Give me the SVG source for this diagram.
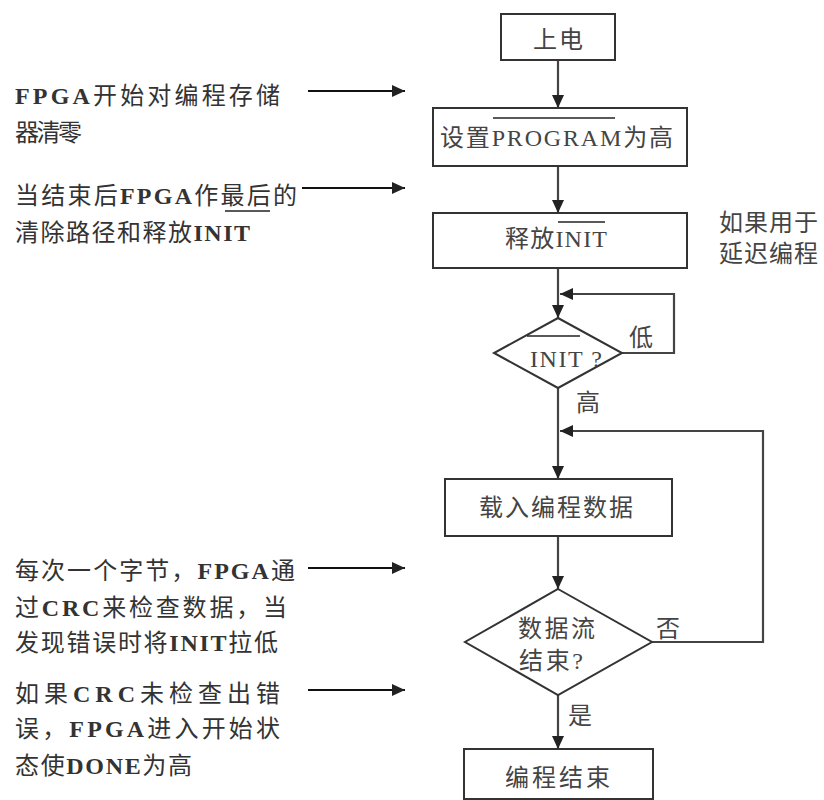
<svg xmlns="http://www.w3.org/2000/svg" width="824" height="800" viewBox="0 0 824 800">
<defs>
<marker id="ah" markerUnits="userSpaceOnUse" markerWidth="14" markerHeight="12" refX="13" refY="6" orient="auto">
<path d="M0,0 L13,6 L0,12 z" fill="#222"/>
</marker>
<style>
.box{fill:#fff;stroke:#333;stroke-width:2}
.con{fill:none;stroke:#444;stroke-width:2.2;marker-end:url(#ah)}
.ann{fill:none;stroke:#111;stroke-width:2;marker-end:url(#ah)}
.ol{stroke:#222;stroke-width:1.6}
.t{font-family:"Liberation Serif","Noto Sans CJK SC",serif;font-size:24px;fill:#444}
.l{font-family:"Liberation Serif","Noto Sans CJK SC",serif;font-size:24px;fill:#333}
.b{font-weight:bold}
</style>
</defs>
<rect width="824" height="800" fill="#fff"/>

<g id="connectors">
<line class="con" x1="558" y1="60" x2="558" y2="108"/>
<line class="con" x1="558" y1="166" x2="558" y2="213"/>
<line class="con" x1="558" y1="268" x2="558" y2="318"/>
<polyline class="con" points="622,353 674,353 674,294 560,294"/>
<line class="con" x1="558" y1="388" x2="558" y2="479"/>
<line class="con" x1="558" y1="536" x2="558" y2="589"/>
<polyline class="con" points="652,642 763,642 763,431 560,431"/>
<line class="con" x1="558" y1="695" x2="558" y2="749"/>
<text class="t" x="629" y="346">低</text>
<text class="t" x="576" y="411">高</text>
<text class="t" x="656" y="637">否</text>
<text class="t" x="568" y="724">是</text>
</g>

<g id="n-power">
<rect class="box" x="501" y="14" width="114" height="46"/>
<text class="t" x="533" y="48" textLength="50" lengthAdjust="spacing">上电</text>
</g>

<g id="n-program">
<rect class="box" x="433" y="108" width="254" height="58"/>
<text class="t" x="440" y="146" textLength="233" lengthAdjust="spacing">设置PROGRAM为高</text>
<line class="ol" x1="493" y1="118" x2="615" y2="118"/>
</g>

<g id="n-release">
<rect class="box" x="433" y="213" width="254" height="55"/>
<text class="t" x="505" y="247" textLength="102" lengthAdjust="spacing">释放INIT</text>
<line class="ol" x1="558" y1="222" x2="605" y2="222"/>
</g>

<g id="n-init">
<polygon class="box" points="558,318 622,353 558,388 494,353"/>
<text class="t" x="530" y="367" textLength="72" lengthAdjust="spacing">INIT ?</text>
<line class="ol" x1="527" y1="336" x2="580" y2="336"/>
</g>

<g id="n-load">
<rect class="box" x="445" y="479" width="227" height="57"/>
<text class="t" x="479" y="516" textLength="154" lengthAdjust="spacing">载入编程数据</text>
</g>

<g id="n-end-q">
<polygon class="box" points="558,589 652,642 558,695 465,642"/>
<text class="t" x="518" y="637" textLength="77" lengthAdjust="spacing">数据流</text>
<text class="t" x="519" y="669" textLength="64" lengthAdjust="spacing">结束?</text>
</g>

<g id="n-done">
<rect class="box" x="464" y="749" width="189" height="50"/>
<text class="t" x="505" y="786" textLength="105" lengthAdjust="spacing">编程结束</text>
</g>

<g id="n-note-right">
<text class="t" x="719" y="231" textLength="99" lengthAdjust="spacing">如果用于</text>
<text class="t" x="719" y="262" textLength="99" lengthAdjust="spacing">延迟编程</text>
</g>

<g id="n-note1">
<text class="l" x="15" y="104" textLength="265" lengthAdjust="spacing"><tspan class="b">FPGA</tspan>开始对编程存储</text>
<text class="l" x="15" y="141" textLength="67" lengthAdjust="spacing">器清零</text>
<line class="ann" x1="308" y1="91" x2="405" y2="91"/>
</g>

<g id="n-note2">
<text class="l" x="15" y="204" textLength="282" lengthAdjust="spacing">当结束后<tspan class="b">FPGA</tspan>作最后的</text>
<text class="l" x="15" y="241" textLength="235" lengthAdjust="spacing">清除路径和释放<tspan class="b">INIT</tspan></text>
<line class="ol" x1="225" y1="211" x2="270" y2="211"/>
<line class="ann" x1="302" y1="188" x2="405" y2="188"/>
</g>

<g id="n-note3">
<text class="l" x="15" y="579" textLength="280" lengthAdjust="spacing">每次一个字节，<tspan class="b">FPGA</tspan>通</text>
<text class="l" x="15" y="616" textLength="272" lengthAdjust="spacing">过<tspan class="b">CRC</tspan>来检查数据，当</text>
<text class="l" x="15" y="651" textLength="263" lengthAdjust="spacing">发现错误时将<tspan class="b">INIT</tspan>拉低</text>
<line class="ann" x1="308" y1="568" x2="405" y2="568"/>
</g>

<g id="n-note4">
<text class="l" x="15" y="702" textLength="265" lengthAdjust="spacing">如果<tspan class="b">CRC</tspan>未检查出错</text>
<text class="l" x="15" y="737" textLength="265" lengthAdjust="spacing">误，<tspan class="b">FPGA</tspan>进入开始状</text>
<text class="l" x="15" y="774" textLength="177" lengthAdjust="spacing">态使<tspan class="b">DONE</tspan>为高</text>
<line class="ann" x1="308" y1="690" x2="405" y2="690"/>
</g>
</svg>
